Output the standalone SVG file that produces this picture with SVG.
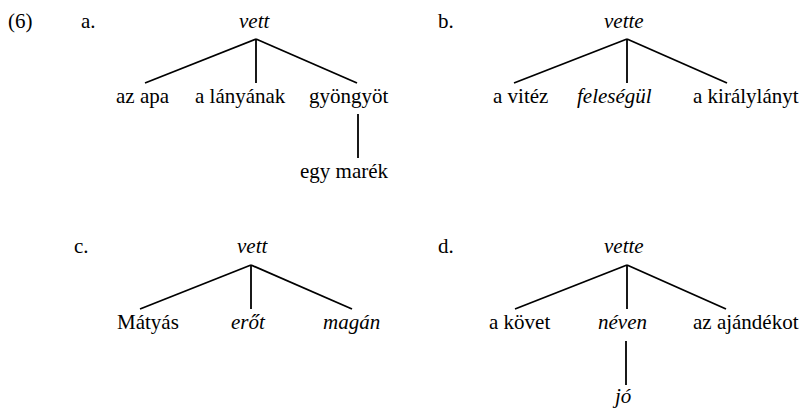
<svg xmlns="http://www.w3.org/2000/svg" width="804" height="409" viewBox="0 0 804 409">
<style>
text{font-family:'Liberation Serif','Times New Roman',serif;font-size:21px;fill:#000}
.i{font-style:italic}
.e{stroke:#000;stroke-width:1.8;fill:none;stroke-linecap:butt}
</style>
<rect width="804" height="409" fill="#fff"/>
<g id="labels">
<text x="8" y="28">(6)</text>
<text x="81" y="28">a.</text>
<text x="438" y="28">b.</text>
<text x="74" y="253">c.</text>
<text x="438" y="253">d.</text>
</g>
<g id="connectors">
<line class="e" x1="256" y1="39" x2="145" y2="83"/>
<line class="e" x1="256" y1="39" x2="256" y2="83"/>
<line class="e" x1="256" y1="39" x2="357" y2="83"/>
<line class="e" x1="358" y1="114" x2="358" y2="158"/>
<line class="e" x1="627" y1="39" x2="514" y2="83"/>
<line class="e" x1="627" y1="39" x2="627" y2="83"/>
<line class="e" x1="627" y1="39" x2="727" y2="83"/>
<line class="e" x1="251" y1="265" x2="140" y2="309"/>
<line class="e" x1="251" y1="265" x2="251" y2="309"/>
<line class="e" x1="251" y1="265" x2="352" y2="309"/>
<line class="e" x1="627" y1="265" x2="515" y2="309"/>
<line class="e" x1="627" y1="265" x2="627" y2="309"/>
<line class="e" x1="627" y1="265" x2="726" y2="309"/>
<line class="e" x1="626" y1="341" x2="626" y2="385"/>
</g>
<g id="a-vett"><text class="i" x="239" y="28">vett</text></g>
<g id="a-azapa"><text x="116" y="103">az apa</text></g>
<g id="a-lanyanak"><text x="195" y="103">a lányának</text></g>
<g id="a-gyongyot"><text x="309" y="103">gyöngyöt</text></g>
<g id="a-egymarek"><text x="300" y="178">egy marék</text></g>
<g id="b-vette"><text class="i" x="604" y="28">vette</text></g>
<g id="b-vitez"><text x="493" y="103">a vitéz</text></g>
<g id="b-felesegul"><text class="i" x="577" y="103">feleségül</text></g>
<g id="b-kiralylanyt"><text x="693" y="103">a királylányt</text></g>
<g id="c-vett"><text class="i" x="237" y="253">vett</text></g>
<g id="c-matyas"><text x="117" y="329">Mátyás</text></g>
<g id="c-erot"><text class="i" x="231" y="329">erőt</text></g>
<g id="c-magan"><text class="i" x="323" y="329">magán</text></g>
<g id="d-vette"><text class="i" x="604" y="253">vette</text></g>
<g id="d-kovet"><text x="489" y="329">a követ</text></g>
<g id="d-neven"><text class="i" x="598" y="329">néven</text></g>
<g id="d-ajandekot"><text x="693" y="329">az ajándékot</text></g>
<g id="d-jo"><text class="i" x="615" y="403">jó</text></g>
</svg>
